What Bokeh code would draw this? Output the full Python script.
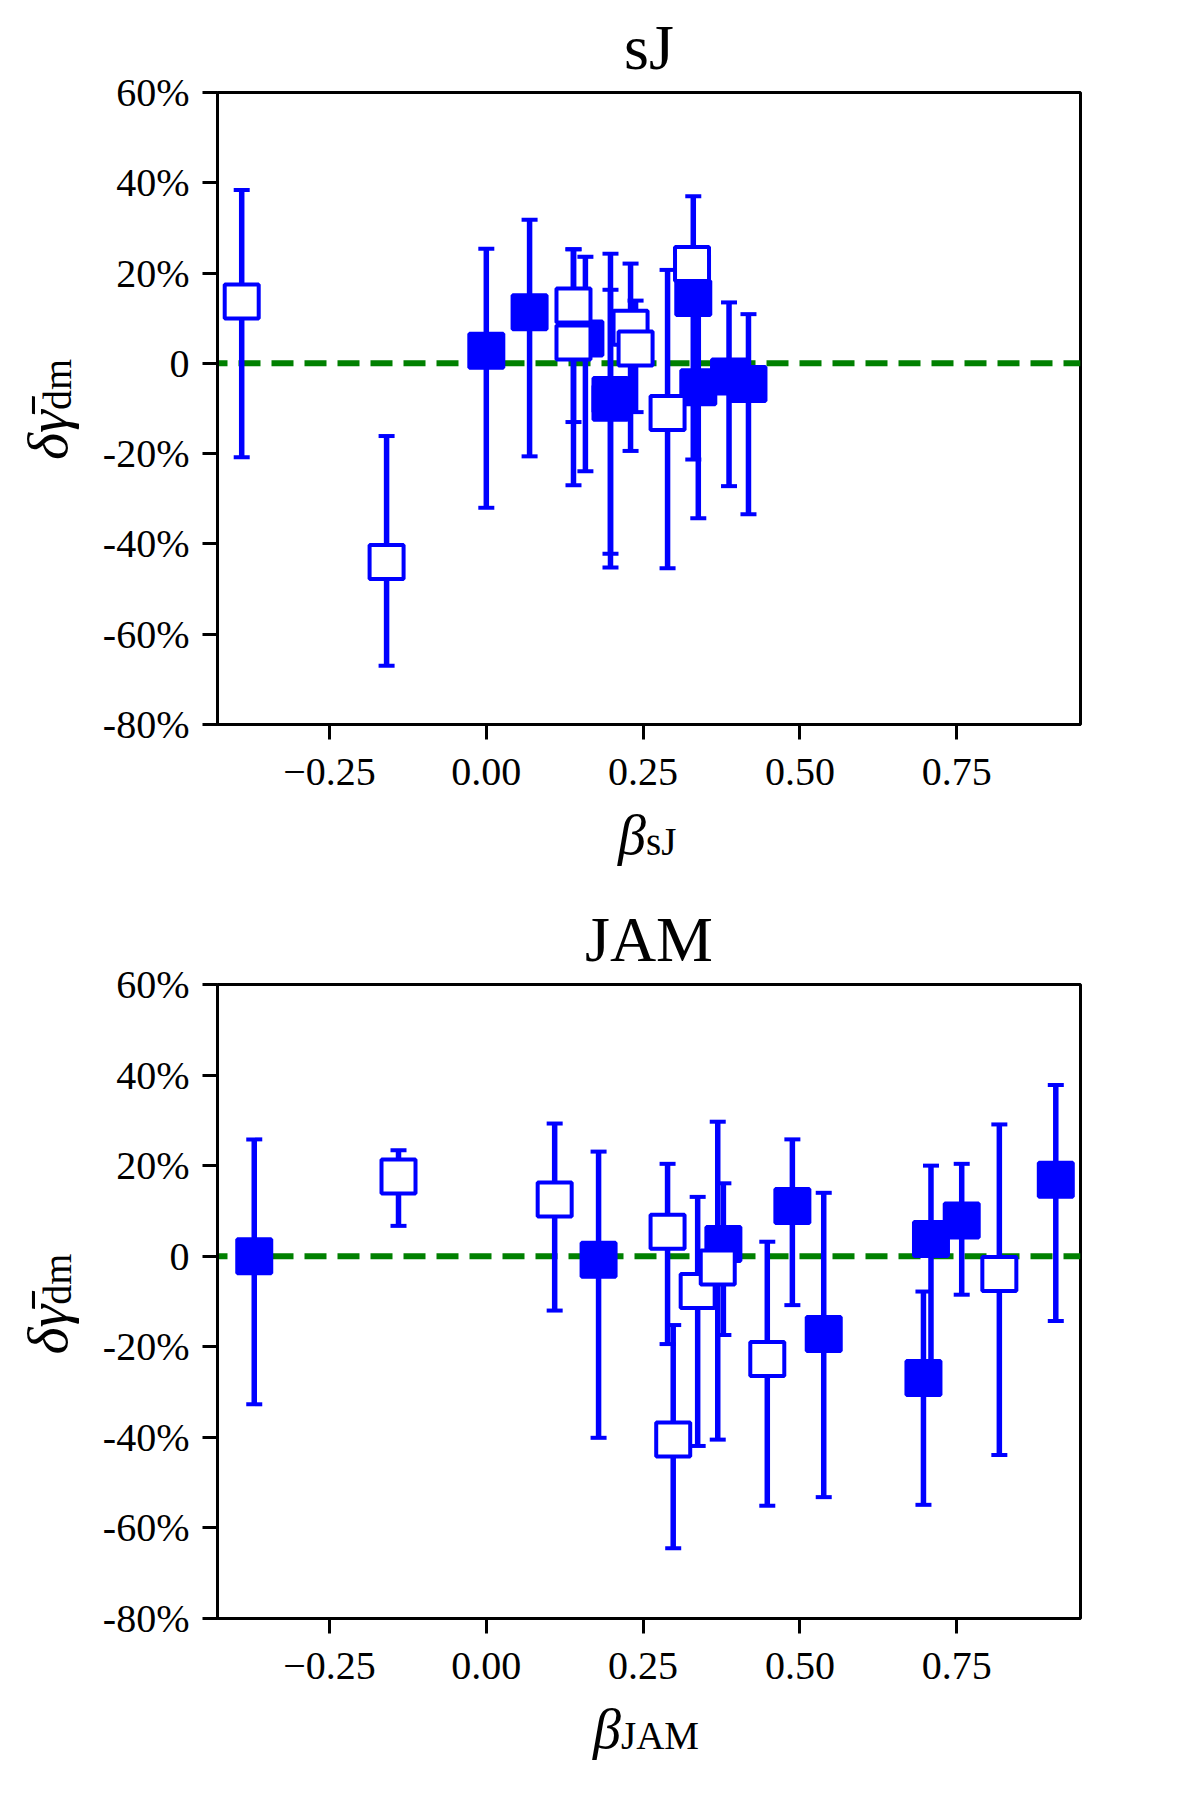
import math
from bokeh.plotting import figure
from bokeh.layouts import column, row
from bokeh.models import ColumnDataSource, Span, FixedTicker
from bokeh.core.properties import value
from bokeh.embed import file_html
from bokeh.resources import INLINE

# ---------------- data ----------------
# sJ panel
sj_beta = [-0.390, -0.159, 0.000, 0.069, 0.139, 0.139, 0.158, 0.198, 0.198, 0.230, 0.238, 0.289, 0.330, 0.328, 0.338, 0.387, 0.418]
sj_dg   = [13.7, -44.0, 2.8, 11.3, 12.8, 4.6, 5.5, -7.0, -8.7, 7.9, 3.3, -11.0, 14.5, 22.0, -5.3, -2.9, -4.6]
sj_hi   = [38.4, -16.1, 25.4, 31.8, 25.3, 25.3, 23.6, 24.3, 16.3, 22.1, 13.9, 20.7, 37.0, 25.0, 12.0, 13.5, 10.9]
sj_lo   = [-20.8, -67.0, -32.0, -20.6, -13.0, -27.0, -23.9, -45.2, -42.2, -19.4, -10.8, -45.4, -21.3, 19.0, -34.3, -27.2, -33.4]
sj_open = [True, True, False, False, True, True, False, False, False, True, True, True, False, True, False, False, False]

# JAM panel
jam_beta = [-0.370, -0.140, 0.109, 0.179, 0.289, 0.298, 0.337, 0.378, 0.369, 0.448, 0.488, 0.538, 0.697, 0.709, 0.758, 0.818, 0.908]
jam_dg   = [0.0, 17.6, 12.5, -0.8, 5.4, -40.5, -7.7, 2.7, -2.5, -22.7, 11.1, -17.2, -26.9, 3.8, 7.9, -3.9, 16.9]
jam_hi   = [25.8, 23.4, 29.3, 23.1, 20.4, -15.2, 13.1, 16.1, 29.7, 3.2, 25.8, 14.0, -7.8, 20.0, 20.4, 29.1, 37.8]
jam_lo   = [-32.7, 6.7, -12.0, -40.1, -19.4, -64.5, -41.9, -17.4, -40.5, -55.1, -10.8, -53.2, -54.9, -26.0, -8.5, -43.9, -14.3]
jam_open = [False, True, True, False, True, True, True, False, True, True, False, False, False, False, False, True, False]

y_ticks = [-80, -60, -40, -20, 0, 20, 40, 60]
y_tick_labels = ["-80%", "-60%", "-40%", "-20%", "0", "20%", "40%", "60%"]
x_ticks = [-0.25, 0.0, 0.25, 0.5, 0.75]
x_tick_labels = ["\u22120.25", "0.00", "0.25", "0.50", "0.75"]

X_RANGE = (-0.4286, 0.9474)
Y_RANGE = (-80, 60)

# ---------------- layout constants ----------------
FONT = "Liberation Serif"
BLUE = "#0000ff"
PAGE_W = 1200
YLAB_W = 80
FRAME_LEFT = 217
FRAME_W = 863
FRAME_H = 634
MAIN_BOTTOM = 80
XLAB_H = 86


def strip(width, height):
    s = figure(width=width, height=height, x_range=(0, width), y_range=(0, height),
               output_backend="svg", toolbar_location=None,
               x_axis_location=None, y_axis_location=None, min_border=0)
    s.grid.visible = False
    s.outline_line_color = None
    s.background_fill_color = "white"
    s.border_fill_color = "white"
    return s


def make_panel(title, sub, beta, dg, hi, lo, is_open, border_top, split_px):
    height = border_top + FRAME_H + MAIN_BOTTOM
    pw = PAGE_W - YLAB_W
    left = FRAME_LEFT - YLAB_W
    p = figure(width=pw, height=height, x_range=X_RANGE, y_range=Y_RANGE,
               output_backend="svg", toolbar_location=None,
               min_border_left=left, min_border_right=pw - left - FRAME_W,
               min_border_top=border_top, min_border_bottom=MAIN_BOTTOM)
    p.grid.visible = False
    p.background_fill_color = "white"
    p.border_fill_color = "white"
    p.outline_line_color = "black"
    p.outline_line_width = 3
    p.outline_line_alpha = 1.0

    p.title.text = title
    p.title.align = "center"
    p.title.text_font = FONT
    p.title.text_font_size = "64px"
    p.title.text_font_style = "normal"
    p.title.text_color = "black"
    p.title.standoff = 19

    for ax in (p.xaxis[0], p.yaxis[0]):
        ax.axis_line_color = "black"
        ax.axis_line_width = 3
        ax.major_tick_line_color = "black"
        ax.major_tick_line_width = 3
        ax.major_tick_out = 15
        ax.major_tick_in = 0
        ax.minor_tick_line_color = None
        ax.major_label_text_font = FONT
        ax.major_label_text_font_size = "40px"
        ax.major_label_text_color = "black"
        ax.axis_label = None

    p.yaxis.ticker = FixedTicker(ticks=y_ticks)
    p.yaxis.major_label_overrides = {t: l for t, l in zip(y_ticks, y_tick_labels)}
    p.yaxis.major_label_standoff = 13
    p.xaxis.ticker = FixedTicker(ticks=x_ticks)
    p.xaxis.major_label_overrides = {t: l for t, l in zip(x_ticks, x_tick_labels)}
    p.xaxis.major_label_standoff = 19

    # zero reference line
    p.add_layout(Span(location=0, dimension="width", line_color="green",
                      line_width=6, line_dash="22 11", line_dash_offset=12,
                      level="underlay"))

    src = ColumnDataSource(dict(x=beta, y=dg, hi=hi, lo=lo))
    p.segment(x0="x", y0="lo", x1="x", y1="hi", source=src,
              line_color=BLUE, line_width=5.5)
    p.scatter(x="x", y="hi", source=src, marker="dash", size=16,
              line_color=BLUE, line_width=4)
    p.scatter(x="x", y="lo", source=src, marker="dash", size=16,
              line_color=BLUE, line_width=4)

    fx = [b for b, o in zip(beta, is_open) if not o]
    fy = [v for v, o in zip(dg, is_open) if not o]
    ox = [b for b, o in zip(beta, is_open) if o]
    oy = [v for v, o in zip(dg, is_open) if o]
    p.scatter(x=fx, y=fy, marker="square", size=34, fill_color=BLUE,
              line_color=BLUE, line_width=4)
    p.scatter(x=ox, y=oy, marker="square", size=34, fill_color="white",
              line_color=BLUE, line_width=4)

    # y-axis label strip (rotated text, reading bottom to top)
    yl = strip(YLAB_W, height)
    ysplit = height - (border_top + 314)
    yl.text(x=[47], y=[ysplit], text=["\u03b4\u03b3\u0304"], angle=math.pi / 2,
            text_font=value(FONT), text_font_style="italic", text_font_size="58px",
            text_color="black", text_align="right", text_baseline="alphabetic")
    yl.text(x=[57], y=[ysplit], text=["dm"], angle=math.pi / 2,
            text_font=value(FONT), text_font_size="40px",
            text_color="black", text_align="left", text_baseline="alphabetic")

    # x-axis label strip: beta with subscript
    xl = strip(PAGE_W, XLAB_H)
    xs = FRAME_LEFT + FRAME_W / 2 + split_px
    xl.text(x=[xs], y=[56], text=["\u03b2"],
            text_font=value(FONT), text_font_style="italic", text_font_size="56px",
            text_color="black", text_align="right", text_baseline="alphabetic")
    xl.text(x=[xs], y=[49], text=[sub],
            text_font=value(FONT), text_font_size="39px",
            text_color="black", text_align="left", text_baseline="alphabetic")

    return column(row(yl, p, spacing=0), xl, spacing=0)


b1 = make_panel("sJ", "sJ", sj_beta, sj_dg, sj_hi, sj_lo, sj_open,
                border_top=90, split_px=-3)
b2 = make_panel("JAM", "JAM", jam_beta, jam_dg, jam_hi, jam_lo, jam_open,
                border_top=94, split_px=-28)

layout = column(b1, b2, spacing=0)
open("out.html", "w").write(file_html(layout, INLINE))
